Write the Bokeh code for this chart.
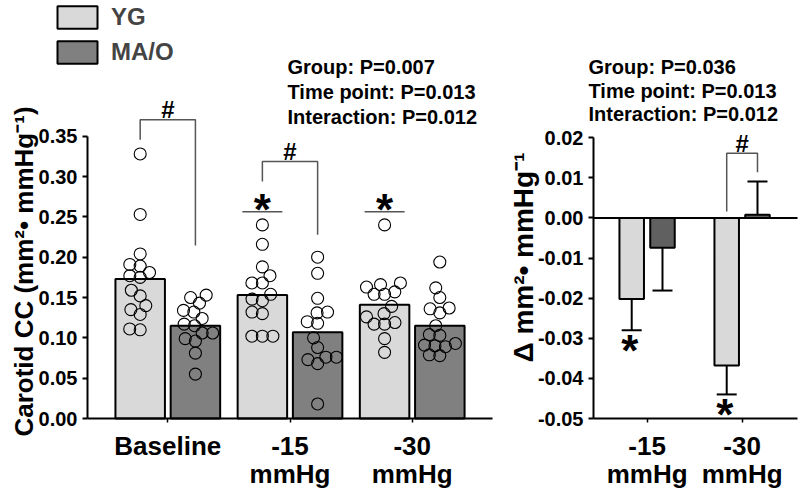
import math
from bokeh.plotting import figure
from bokeh.layouts import row
from bokeh.models import (ColumnDataSource, Range1d, FixedTicker,
                          NumeralTickFormatter, Label, Whisker, TeeHead)
from bokeh.embed import file_html
from bokeh.resources import INLINE

# ---------------- data ----------------
left_categories = ["Baseline", "-15\nmmHg", "-30\nmmHg"]
right_categories = ["-15\nmmHg", "-30\nmmHg"]
group_names = ["YG", "MA/O"]

yg_mean = [0.173, 0.153, 0.141]
mao_mean = [0.115, 0.107, 0.115]

yg_baseline = [0.328, 0.253, 0.204, 0.189, 0.191, 0.181, 0.175, 0.177, 0.159,
               0.152, 0.140, 0.135, 0.129, 0.110, 0.111]
mao_baseline = [0.150, 0.153, 0.143, 0.134, 0.132, 0.124, 0.115, 0.117, 0.106,
                0.099, 0.106, 0.096, 0.081, 0.055]
yg_m15 = [0.240, 0.216, 0.188, 0.177, 0.168, 0.168, 0.154, 0.146, 0.148, 0.132,
          0.130, 0.102, 0.102, 0.102]
mao_m15 = [0.200, 0.180, 0.149, 0.131, 0.132, 0.118, 0.120, 0.100, 0.088, 0.076,
           0.073, 0.068, 0.076, 0.018]
yg_m30 = [0.240, 0.163, 0.168, 0.166, 0.154, 0.157, 0.154, 0.139, 0.130, 0.126,
          0.117, 0.117, 0.119, 0.099, 0.082]
mao_m30 = [0.194, 0.162, 0.150, 0.136, 0.137, 0.131, 0.115, 0.103, 0.104, 0.089,
           0.091, 0.093, 0.090, 0.078, 0.079]

delta_yg = [-0.0202, -0.0368]
delta_yg_sem = [0.0078, 0.0072]
delta_mao = [-0.0074, 0.0008]
delta_mao_sem = [0.0107, 0.0083]

left_ticks = [0.00, 0.05, 0.10, 0.15, 0.20, 0.25, 0.30, 0.35]
right_ticks = [-0.05, -0.04, -0.03, -0.02, -0.01, 0.00, 0.01, 0.02]

left_stats = ["Group: P=0.007", "Time point: P=0.013", "Interaction: P=0.012"]
right_stats = ["Group: P=0.036", "Time point: P=0.013", "Interaction: P=0.012"]

left_ylabel = "Carotid CC (mm\u00b2\u2022 mmHg\u207b\u00b9)"
right_ylabel = "\u0394 mm\u00b2\u2022 mmHg\u207b\u00b9"

# ---------------- style / layout constants ----------------
FONT = "Liberation Sans"
YG_COLOR = "#d9d9d9"
MAO_COLOR = "#808080"
MAO_DARK = "#606060"
BRACKET_COLOR = "#555555"

H = 492
L_W, R_W = 500, 300
# left panel pixel mapping (canvas px)
L_CX0, L_PXX = 167.3, 122.2     # x pixel of first category, px per category
L_Y0, L_PXY = 418.0, 806.6      # y pixel of value 0, px per unit
# right panel pixel mapping (canvas px, relative to right figure)
R_CX0, R_PXX = 146.6, 95.0
R_YB, R_PXY = 418.0, 4011.0     # y pixel of -0.05, px per unit

L_OFF, L_BW = 0.226, 0.405
R_OFF, R_BW = 0.162, 0.258


def lx(px):
    return (px - L_CX0) / L_PXX


def ly(py):
    return (L_Y0 - py) / L_PXY


def rx(px):
    return (px - R_CX0) / R_PXX


def ry(py):
    return -0.05 + (R_YB - py) / R_PXY


def swarm_offsets(vals, px_per_y, diam):
    order = sorted(range(len(vals)), key=lambda i: vals[i])
    placed = []
    offs = [0.0] * len(vals)
    for i in order:
        y = vals[i] * px_per_y
        intervals, cands = [], [0.0]
        for xj, yj in placed:
            dy = abs(y - yj)
            if dy < diam:
                w = math.sqrt(diam * diam - dy * dy)
                intervals.append((xj - w, xj + w))
                cands.extend([xj - w, xj + w])
        ok = [c for c in cands
              if all(not (a + 1e-6 < c < b - 1e-6) for a, b in intervals)]
        best = min(ok, key=lambda c: (abs(c), c))
        offs[i] = best
        placed.append((best, y))
    return offs


def style_axes(p, ticks, ybounds, yaxis_at, xaxis_at, xbounds, categories):
    p.xgrid.visible = False
    p.ygrid.visible = False
    p.outline_line_color = None
    p.background_fill_color = "white"
    p.border_fill_color = "white"
    for ax in p.xaxis + p.yaxis:
        ax.axis_line_width = 2
        ax.axis_line_color = "black"
        ax.major_tick_line_color = "black"
        ax.major_tick_in = 0
        ax.minor_tick_line_color = None
        ax.major_label_text_font = FONT
        ax.major_label_text_font_style = "bold"
        ax.major_label_text_color = "black"
    p.yaxis.fixed_location = yaxis_at
    p.yaxis.ticker = FixedTicker(ticks=ticks)
    p.yaxis.bounds = ybounds
    p.yaxis.formatter = NumeralTickFormatter(format="0.00")
    p.yaxis.major_tick_out = 5
    p.yaxis.major_tick_line_width = 2
    p.yaxis.major_label_text_font_size = "20px"
    p.yaxis.major_label_standoff = 5
    p.xaxis.fixed_location = xaxis_at
    p.xaxis.bounds = xbounds
    p.xaxis.ticker = FixedTicker(ticks=list(range(len(categories))))
    p.xaxis.major_label_overrides = {i: c for i, c in enumerate(categories)}
    p.xaxis.major_tick_out = 4
    p.xaxis.major_tick_line_width = 1.5
    p.xaxis.major_label_text_font_size = "26px"
    p.xaxis.major_label_text_line_height = 0.95
    p.xaxis.major_label_standoff = 8
    p.xaxis.major_label_orientation = "horizontal"


def add_text(p, x, y, text, size, align="left", baseline="alphabetic", angle=0.0):
    p.add_layout(Label(x=x, y=y, text=text, text_font=FONT, text_font_size=size,
                       text_font_style="bold", text_color="black", text_align=align,
                       text_baseline=baseline, angle=angle))


def make_fig(w, xr, yr):
    p = figure(width=w, height=H, x_range=Range1d(*xr), y_range=Range1d(*yr),
               output_backend="svg", toolbar_location=None,
               min_border=0, min_border_left=0, min_border_right=0,
               min_border_top=0, min_border_bottom=0)
    return p


# ---------------- left panel ----------------
p1 = make_fig(L_W, (lx(0), lx(L_W)), (ly(H), ly(0)))
style_axes(p1, left_ticks, (0, 0.35), lx(87), 0, (lx(87), lx(492)), left_categories)

xs = list(range(len(left_categories)))
src_l = ColumnDataSource(dict(xyg=[x - L_OFF for x in xs], xmao=[x + L_OFF for x in xs],
                              yg=yg_mean, mao=mao_mean))
p1.vbar(x="xyg", top="yg", width=L_BW, source=src_l,
        fill_color=YG_COLOR, line_color="black", line_width=2, legend_label=group_names[0])
p1.vbar(x="xmao", top="mao", width=L_BW, source=src_l,
        fill_color=MAO_COLOR, line_color="black", line_width=2, legend_label=group_names[1])

point_sets = [(0, -L_OFF, yg_baseline), (0, L_OFF, mao_baseline),
              (1, -L_OFF, yg_m15), (1, L_OFF, mao_m15),
              (2, -L_OFF, yg_m30), (2, L_OFF, mao_m30)]
px_x, px_y = [], []
for idx, off, vals in point_sets:
    offs = swarm_offsets(vals, L_PXY, 10.5)
    for v, o in zip(vals, offs):
        px_x.append(idx + off + o / L_PXX)
        px_y.append(v)
p1.scatter(px_x, px_y, marker="circle", size=12, fill_alpha=0,
           line_color="black", line_width=1.1)

leg = p1.legend[0]
leg.location = (52, H - 66)
leg.glyph_width = 50
leg.glyph_height = 28
leg.label_height = 28
leg.spacing = 7
leg.padding = 0
leg.margin = 0
leg.border_line_color = None
leg.background_fill_alpha = 0
leg.label_text_font = FONT
leg.label_text_font_size = "24px"
leg.label_text_font_style = "bold"
leg.label_standoff = 9

# significance brackets (#) between groups, left panel
l_brackets = [(0, 139.3, 119.3, 245.0), (1, 181.0, 161.0, 234.3)]
for idx, left_py, top_py, right_py in l_brackets:
    xa, xb = idx - L_OFF, idx + L_OFF
    p1.line([xa, xa, xb, xb], [ly(left_py), ly(top_py), ly(top_py), ly(right_py)],
            line_color=BRACKET_COLOR, line_width=1.5)
    add_text(p1, idx, ly(top_py - 10), "#", "24px", align="center")

# asterisks over YG (vs baseline)
for idx in [1, 2]:
    xc = idx - L_OFF
    w = 20 / L_PXX
    p1.line([xc - w, xc + w], [ly(211.3), ly(211.3)], line_color=BRACKET_COLOR,
            line_width=1.5)
    add_text(p1, xc, ly(201 + 8), "*", "44px", align="center")

for i, t in enumerate(left_stats):
    add_text(p1, lx(287), ly(66.7 + 25 * i), t, "20px", baseline="middle")

add_text(p1, lx(23), ly(271), left_ylabel, "26px", align="center",
         baseline="middle", angle=math.pi / 2)

# ---------------- right panel ----------------
p2 = make_fig(R_W, (rx(0), rx(R_W)), (ry(H), ry(0)))
style_axes(p2, right_ticks, (-0.05, 0.02), rx(93), -0.05, (rx(93), rx(297)),
           right_categories)

# zero line
p2.line([rx(93), rx(297)], [0, 0], line_color="black", line_width=2)

xs_r = list(range(len(right_categories)))
src_r = ColumnDataSource(dict(xyg=[x - R_OFF for x in xs_r], xmao=[x + R_OFF for x in xs_r],
                              yg=delta_yg, mao=delta_mao))
p2.vbar(x="xyg", top="yg", bottom=0, width=R_BW, source=src_r,
        fill_color=YG_COLOR, line_color="black", line_width=2)
p2.vbar(x="xmao", top="mao", bottom=0, width=R_BW, source=src_r,
        fill_color=MAO_DARK, line_color="black", line_width=2)

neg = dict(base=[], lower=[], upper=[])
pos = dict(base=[], lower=[], upper=[])
for i in xs_r:
    for off, vals, errs in [(-R_OFF, delta_yg, delta_yg_sem), (R_OFF, delta_mao, delta_mao_sem)]:
        v, e = vals[i], errs[i]
        b = i + off
        if v < 0:
            neg["base"].append(b); neg["lower"].append(v - e); neg["upper"].append(v)
        else:
            pos["base"].append(b); pos["lower"].append(v); pos["upper"].append(v + e)
p2.add_layout(Whisker(base="base", lower="lower", upper="upper",
                      source=ColumnDataSource(neg), dimension="height",
                      lower_head=TeeHead(size=20, line_width=2, line_color="black"),
                      upper_head=None, line_width=2, line_color="black"))
p2.add_layout(Whisker(base="base", lower="lower", upper="upper",
                      source=ColumnDataSource(pos), dimension="height",
                      upper_head=TeeHead(size=20, line_width=2, line_color="black"),
                      lower_head=None, line_width=2, line_color="black"))

# asterisks below YG error bars
for i in xs_r:
    cap = delta_yg[i] - delta_yg_sem[i]
    add_text(p2, i - R_OFF - 2 / R_PXX, cap - (15 + 5) / R_PXY, "*", "44px", align="center")

# bracket (#) at -30 mmHg
xa, xb = 1 - R_OFF, 1 + R_OFF
p2.line([xa, xa, xb, xb], [ry(211.0), ry(152.7), ry(152.7), ry(171.7)],
        line_color=BRACKET_COLOR, line_width=1.5)
add_text(p2, 1, ry(152.7 - 10), "#", "24px", align="center")

for i, t in enumerate(right_stats):
    add_text(p2, rx(88), ry(66.7 + 23.5 * i), t, "20px", baseline="middle")

add_text(p2, rx(23), ry(257), right_ylabel, "28px", align="center",
         baseline="middle", angle=math.pi / 2)

layout = row(p1, p2)
open("out.html", "w").write(file_html(layout, INLINE))
